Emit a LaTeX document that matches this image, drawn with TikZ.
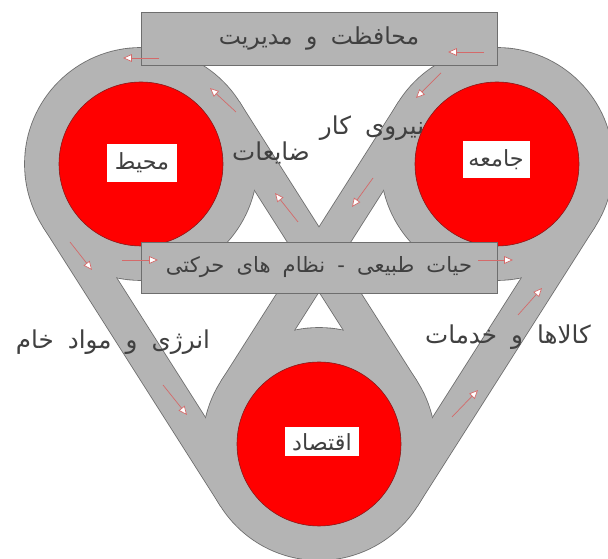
\documentclass[tikz,border=0pt]{standalone}
\usepackage{fontspec}
\usetikzlibrary{arrows.meta,positioning,calc}
\newfontfamily\fa[Script=Arabic, WordSpace=1.8]{DejaVu Sans}
\TeXXeTstate=1
\definecolor{beltGray}{HTML}{B4B4B4}
\definecolor{edgeGray}{HTML}{6E6E6E}
\definecolor{hubRed}{HTML}{FF0000}
\definecolor{hubEdge}{HTML}{8A1C1C}
\definecolor{flowRed}{HTML}{D46A6A}
\definecolor{txtGray}{HTML}{404040}
\tikzset{
  beltedge/.style={draw=edgeGray, line width=1.07cm},
  belt/.style={draw=beltGray, line width=1.02cm},
  hub/.style={circle, draw=hubEdge, fill=hubRed, line width=0.5pt, minimum size=4.92cm, inner sep=0pt},
  tag/.style={fill=white, inner sep=0pt, font=\fa\fontsize{19}{21}\selectfont, text=txtGray},
  panel/.style={draw=edgeGray, fill=beltGray, line width=0.6pt, minimum width=10.68cm, inner sep=0pt,
    font=\fa\fontsize{20}{22}\selectfont, text=txtGray},
  lbl/.style={inner sep=0pt, font=\fa\fontsize{21}{24}\selectfont, text=txtGray},
  flow/.style={draw=flowRed, line width=0.6pt, -{Triangle[length=7.5pt, width=6.5pt, fill=white]}},
}

\begin{document}
\begin{tikzpicture}[x=0.03cm, y=0.03cm]
\useasboundingbox (0,0) rectangle (608,559);
\clip (0,0) rectangle (608,559);
\fill[white] (0,0) rectangle (608,559);
% --- pulley centres
\coordinate (cL) at (141,395);
\coordinate (cR) at (497,395);
\coordinate (cB) at (319,115);
% --- belts: outline pass, then fill pass
\foreach \sty in {beltedge, belt}{
  \foreach \c in {cL, cR, cB}
    \draw[\sty] (\c) circle[radius=99];
  \foreach \a/\b in {cL/cB, cB/cR}{
    \draw[\sty] ($(\a)!2.97cm!90:(\b)$) -- ($(\b)!2.97cm!-90:(\a)$);
    \draw[\sty] ($(\a)!2.97cm!-90:(\b)$) -- ($(\b)!2.97cm!90:(\a)$);
  }
}
% --- red hubs
\node[hub] (env) at (cL) {};
\node[hub] (soc) at (cR) {};
\node[hub] (eco) at (cB) {};
% --- panels
\node[panel, minimum height=1.59cm] (mgmt) at (319,520.5) {\beginR محافظت و مدیریت\endR};
\node[panel, minimum height=1.53cm, font=\fa\fontsize{18}{20}\selectfont] (life) at (319,291.5)
  {\beginR حیات طبیعی - نظام های حرکتی\endR\hspace{0.66cm}};
% --- arrows
\foreach \xa/\ya/\xb/\yb in {484/507/448/507, 159/501/123/501, 236/447/210/471, 441/486/416/461,
  298/337/275/366, 373/381/352/352, 70/317/92/289, 122/299/158/299, 478/299/513/299,
  518/244/542/271, 163/174/187/144, 452/142/478/169}
  \draw[flow] (\xa,\ya) -- (\xb,\yb);
% --- hub tags
\node[tag, minimum width=2.07cm, minimum height=1.14cm] (envtag) at (142,396) {\beginR محیط\endR};
\node[tag, minimum width=2.01cm, minimum height=1.11cm] (soctag) at (496,399) {\beginR جامعه\endR};
\node[tag, minimum width=2.22cm, minimum height=0.87cm] (ecotag) at (322,117) {\beginR اقتصاد\endR};
% --- flow labels
\node[lbl] (labour) at (372,431) {\beginR نیروی کار\endR};
\node[lbl] (waste) at (271,406) {\beginR ضایعات\endR};
\node[lbl] (energy) at (113,217) {\beginR انرژی و مواد خام\endR};
\node[lbl] (goods) at (508,222) {\beginR کالاها و خدمات\endR};
\end{tikzpicture}
\end{document}
